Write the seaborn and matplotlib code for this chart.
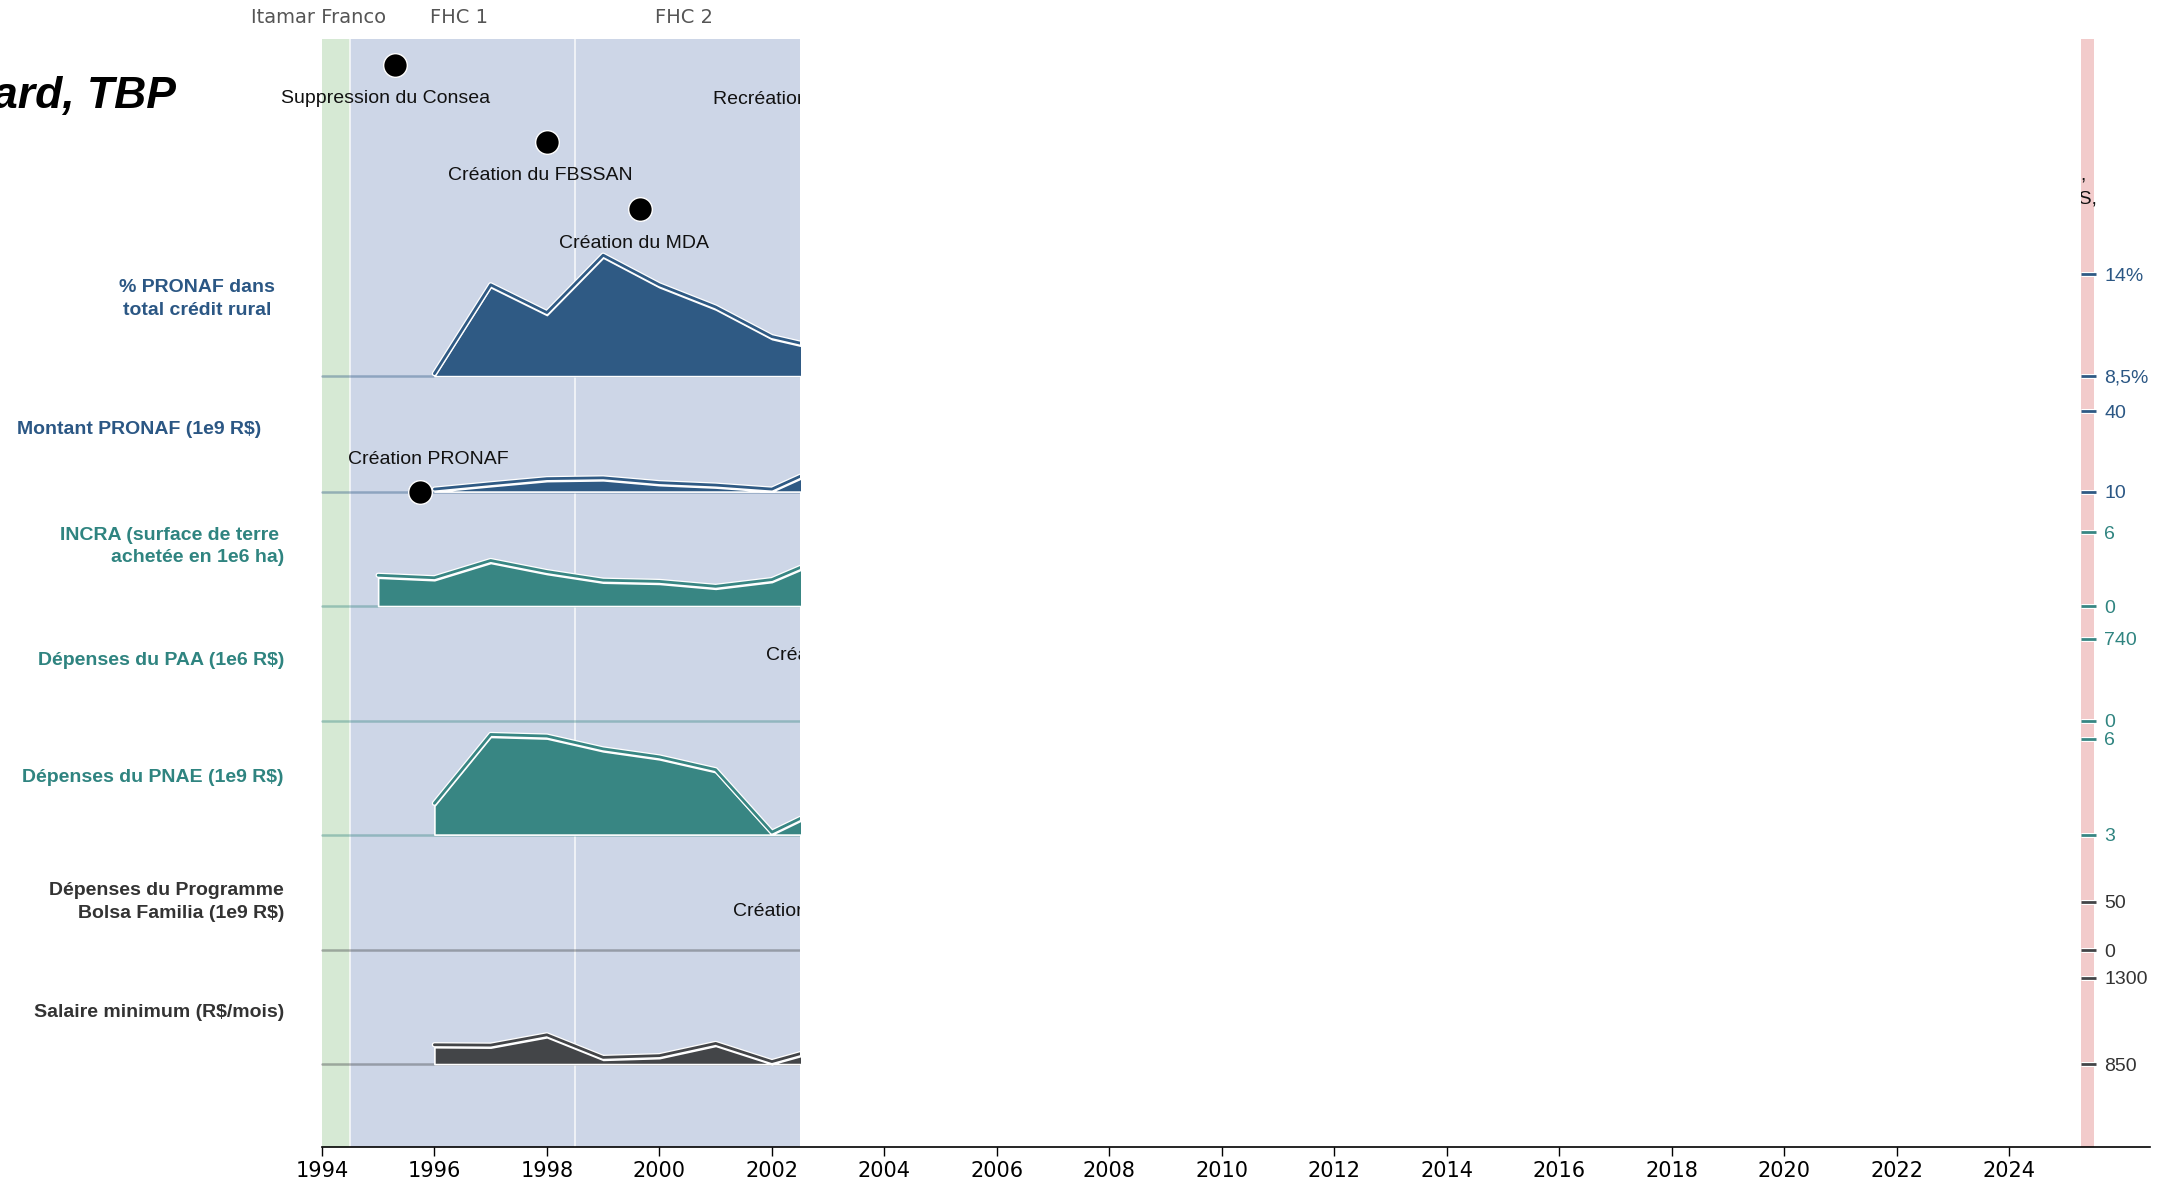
import numpy as np
import pandas as pd
import matplotlib
matplotlib.use("Agg")
import matplotlib.pyplot as plt
import matplotlib.transforms as mtransforms
import matplotlib.patheffects as pe
import seaborn as sns

# ---- data ----
years = [1995, 1996, 1997, 1998, 1999, 2000, 2001, 2002, 2003]

pronaf_pct = [np.nan, 8.5, 13.3, 11.8, 14.9, 13.3, 12.1, 10.5, 9.8]
pronaf_amount = [np.nan, 10.0, 12.0, 13.9, 14.2, 12.4, 11.5, 10.0, 19.5]
incra_area = [2.3, 2.1, 3.5, 2.6, 1.9, 1.8, 1.4, 1.95, 3.9]
paa_spend = [np.nan] * 9
pnae_spend = [np.nan, 3.9, 6.05, 6.0, 5.6, 5.35, 4.95, 3.0, 3.85]
bolsa_spend = [np.nan] * 9
min_wage = [np.nan, 938, 936, 990, 872, 881, 945, 850, 932]

series = [pronaf_pct, pronaf_amount, incra_area, paa_spend,
          pnae_spend, bolsa_spend, min_wage]

row_labels = ["% PRONAF dans\ntotal crédit rural",
              "Montant PRONAF (1e9 R$)",
              "INCRA (surface de terre \nachetée en 1e6 ha)",
              "Dépenses du PAA (1e6 R$)",
              "Dépenses du PNAE (1e9 R$)",
              "Dépenses du Programme\nBolsa Familia (1e9 R$)",
              "Salaire minimum (R$/mois)"]
row_lo = [8.5, 10, 0, 0, 3, 0, 850]
row_hi = [14, 40, 6, 740, 6, 50, 1300]
lo_text = ["8,5%", "10", "0", "0", "3", "0", "850"]
hi_text = ["14%", "40", "6", "740", "6", "50", "1300"]

# mandates shown as background bands
band_names = ["Itamar Franco", "FHC 1", "FHC 2", ""]
band_start = [1993.5, 1994.5, 1998.5, 2025.27]
band_end = [1994.5, 1998.5, 2002.5, 2025.5]
band_colors = ["#d6e9d4", "#cdd6e7", "#cdd6e7", "#f2cbcb"]

event_years = [1995.3, 1998.0, 1999.66, 2003.0, 1995.74, 2003.5, 2003.43]
event_labels = ["Suppression du Consea", "Création du FBSSAN", "Création du MDA",
                "Recréation du Consea", "Création PRONAF", "Création du PAA",
                "Création du Bolsa Familia"]

# ---- layout (axes fraction) ----
row_base = [0.6957, 0.5915, 0.4882, 0.3847, 0.2819, 0.1775, 0.0748]
row_top = [0.7876, 0.6641, 0.5548, 0.4587, 0.3686, 0.2213, 0.1525]
row_label_y = [0.7652, 0.6477, 0.542, 0.4389, 0.3339, 0.2213, 0.1213]
row_label_x = [0.0906, 0.1205, 0.1307, 0.1307, 0.1307, 0.1307, 0.1307]
row_label_ha = ["center", "right", "right", "right", "right", "right", "right"]
event_dot_y = [0.9764, 0.9066, 0.8464, 0.9764, 0.5915, 0.4151, 0.1838]
event_text_y = [0.9465, 0.8765, 0.8152, 0.9452, 0.6202, 0.4439, 0.2126]
event_text_dx = [-0.17, -0.12, -0.12, -0.32, 0.16, -0.32, -0.12]

blue, teal, dark = "#2f5a84", "#388683", "#434548"
row_colors = [blue, blue, teal, teal, teal, dark, dark]
text_colors = ["#2b5784", "#2b5784", "#2f8480", "#2f8480", "#2f8480", "#333333", "#333333"]

sns.set_theme(style="ticks")
plt.rcParams["font.family"] = ["DejaVu Sans"]
label_font = ["Liberation Sans", "DejaVu Sans"]

fig, ax = plt.subplots(figsize=(21.72, 11.85), dpi=100)
fig.subplots_adjust(left=0.1482, right=0.9899, bottom=0.0321, top=0.9671)
ax.set_xlim(1994, 2026.5)
ax.set_ylim(0, 1)

left_box = mtransforms.TransformedBbox(
    mtransforms.Bbox([[1980, -0.5], [2002.5, 1.5]]), ax.transData)
right_box = mtransforms.TransformedBbox(
    mtransforms.Bbox([[2025.27, -0.5], [2040, 1.5]]), ax.transData)

# background bands
for s, e, c in zip(band_start, band_end, band_colors):
    ax.axvspan(s, e, color=c, lw=0, zorder=0)
for s in band_start[1:3]:
    ax.axvline(s, color="white", lw=1.2, alpha=0.8, zorder=1)
hdr = mtransforms.blended_transform_factory(ax.transData, ax.transAxes)
for name, s, e in zip(band_names, band_start, band_end):
    if name:
        ax.text((s + e) / 2 - 0.06, 1.019, name, transform=hdr, ha="center",
                va="center", fontsize=14, color="#555555")

clipped = []
line_shift = mtransforms.offset_copy(ax.transData, fig=fig, x=0, y=1.8, units="points")

for vals, lo, hi, b, t, c in zip(series, row_lo, row_hi, row_base, row_top, row_colors):
    clipped.append(ax.axhline(b, color=c, alpha=0.4, lw=1.8, zorder=2))
    v = np.array(vals, dtype=float)
    if np.all(np.isnan(v)):
        continue
    y = b + (v - lo) / (hi - lo) * (t - b)
    ok = ~np.isnan(y)
    xs = np.array(years)[ok]
    ys = y[ok]
    clipped.append(ax.fill_between(xs, b, ys, color=c, edgecolor="white",
                                   lw=1.2, zorder=3))
    n_before = len(ax.lines)
    sns.lineplot(x=xs, y=ys, ax=ax, color=c, lw=2.0, transform=line_shift,
                 path_effects=[pe.Stroke(linewidth=3.8, foreground="white"), pe.Normal()],
                 zorder=4)
    clipped.extend(ax.lines[n_before:])

# events
events = pd.DataFrame({"year": event_years, "label": event_labels,
                       "dot_y": event_dot_y, "text_y": event_text_y,
                       "dx": event_text_dx})
n_coll = len(ax.collections)
sns.scatterplot(data=events, x="year", y="dot_y", ax=ax, s=290, color="black",
                edgecolor="white", linewidth=1, zorder=6, legend=False)
clipped.extend(ax.collections[n_coll:])
for _, r in events.iterrows():
    tx = ax.text(r["year"] + r["dx"], r["text_y"], r["label"], ha="center",
                 va="center", fontsize=14, color="#111111", family=label_font,
                 zorder=7, clip_on=True)
    clipped.append(tx)

for art in clipped:
    art.set_clip_path(None)
    art.set_clip_box(left_box)
    art.set_clip_on(True)

# fragments of late labels visible in the last band
for txt, xr, yy in [("Plan Brasil sem Fome, Desenrola Rural,", 2025.37, 0.8773),
                    ("recréation du CONSEA et du MDS,", 2025.55, 0.8556)]:
    tx = ax.text(xr, yy, txt, ha="right", va="center", fontsize=14,
                 color="#111111", family=label_font, zorder=7, clip_on=True)
    tx.set_clip_path(None)
    tx.set_clip_box(right_box)

# left row labels
lab_tr = mtransforms.blended_transform_factory(fig.transFigure, ax.transAxes)
for lab, lx, ly, ha, c in zip(row_labels, row_label_x, row_label_y, row_label_ha, text_colors):
    ax.text(lx, ly, lab, transform=lab_tr, ha=ha, va="center", multialignment=ha,
            fontsize=14, fontweight="bold", color=c, family=label_font,
            linespacing=1.45)

# right scale ticks drawn on a twin axis placed at the last band
ax2 = ax.twinx()
ax2.set_ylim(0, 1)
for sp in ax2.spines.values():
    sp.set_visible(False)
ax2.spines["right"].set_position(("data", 2025.54))
tick_pos = row_base + row_top
tick_txt = lo_text + hi_text
tick_col = row_colors + row_colors
ax2.set_yticks(tick_pos)
ax2.set_yticklabels(tick_txt)
ax2.tick_params(axis="y", direction="in", length=10.8, width=2.0, pad=5.8,
                labelsize=14, right=True, left=False)
for tk, c, tc in zip(ax2.yaxis.get_major_ticks(), tick_col, text_colors + text_colors):
    tk.tick2line.set_markeredgecolor(c)
    tk.tick2line.set_path_effects([pe.Stroke(linewidth=3.6, foreground="white"), pe.Normal()])
    tk.label2.set_color(tc)
    tk.label2.set_family(label_font)
ax2.set_ylabel("")

# main axis styling
ax.set_yticks([])
ax.set_xticks(range(1994, 2025, 2))
ax.tick_params(axis="x", bottom=True, length=6.3, width=1.0, labelsize=15,
               colors="black", pad=4)
for side in ["left", "top", "right"]:
    ax.spines[side].set_visible(False)
ax.spines["bottom"].set_color("black")
ax.spines["bottom"].set_linewidth(1.2)
ax.set_xlabel("")
ax.set_ylabel("")
ax.set_xlim(1994, 2026.5)
ax.set_ylim(0, 1)

fig.text(0.081, 0.9088, "Dashboard, TBP", ha="right", va="baseline", fontsize=32,
         fontweight="bold", fontstyle="italic", color="black",
         family=["Liberation Sans", "DejaVu Sans"])

fig.savefig("out.png", dpi=100)
